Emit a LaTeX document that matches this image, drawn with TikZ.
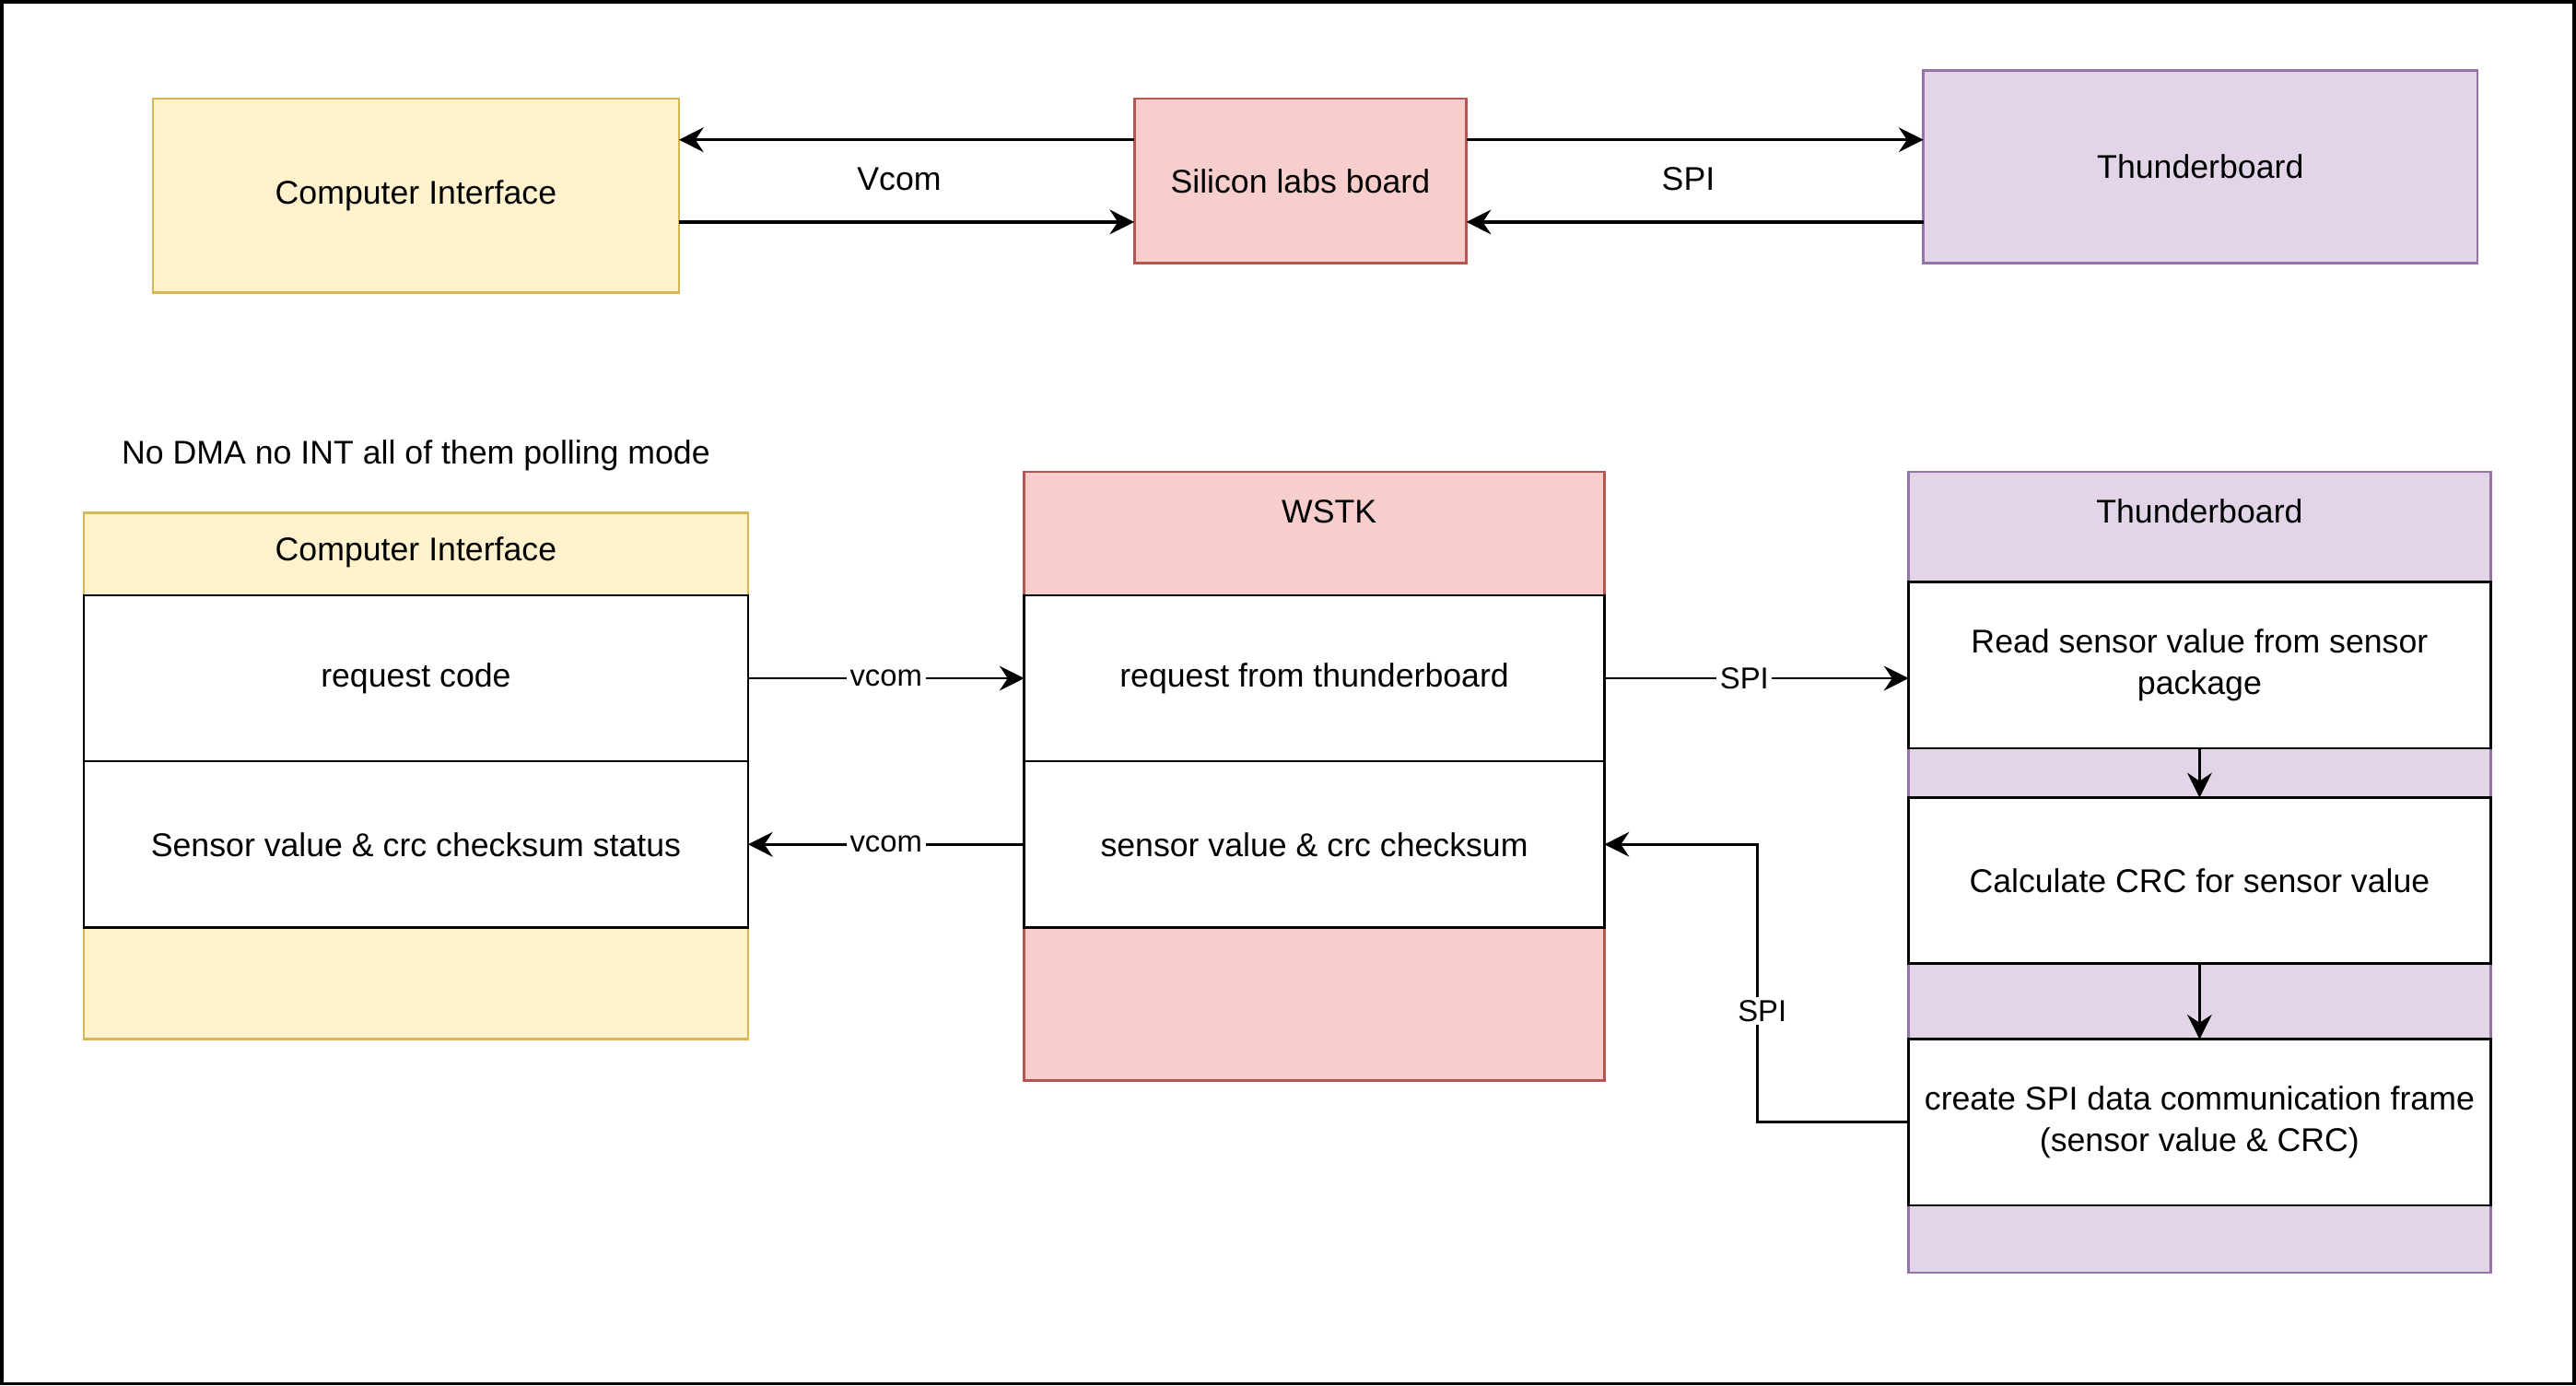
\documentclass[tikz,border=0pt]{standalone}
\usepackage{fontspec}
\setmainfont{Liberation Sans}
\usepackage{tikz}
\usetikzlibrary{calc,positioning,arrows.meta}
\definecolor{ylwfill}{HTML}{FFF2CC}
\definecolor{ylwline}{HTML}{D6B656}
\definecolor{redfill}{HTML}{F8CECC}
\definecolor{redline}{HTML}{B85450}
\definecolor{purfill}{HTML}{E1D5E7}
\definecolor{purline}{HTML}{9673A6}

\begin{document}
\begin{tikzpicture}[x=0.5pt,y=-0.5pt,>={Stealth[length=7.5pt,width=7.5pt,inset=2.5pt]},
  box/.style={draw,line width=0.75pt,inner sep=0pt,outer sep=0pt,font=\fontsize{10}{12.5}\selectfont,align=center},
  ylwbox/.style={box,fill=ylwfill,draw=ylwline},
  redbox/.style={box,fill=redfill,draw=redline},
  purbox/.style={box,fill=purfill,draw=purline},
  row/.style={box,fill=white,draw=black,minimum height=50.5pt},
  txt/.style={font=\fontsize{10}{12.5}\selectfont,inner sep=0pt},
  elab/.style={fill=white,font=\fontsize{9.2}{11}\selectfont,inner sep=1pt},
  link/.style={->,line width=0.75pt}]
  \useasboundingbox (0,0) rectangle (1567,842.4);
  \draw[line width=1pt] (1,1) rectangle (1566,841.4);

  \node[ylwbox,minimum width=160pt,minimum height=59pt] (ci) at (253,119) {Computer Interface};
  \node[redbox,minimum width=101pt,minimum height=50pt] (slb) at (791,110) {Silicon labs board};
  \node[purbox,minimum width=168.5pt,minimum height=58.5pt] (tb) at (1338.5,101.5) {Thunderboard};

  \coordinate (v1) at ($(slb.north west)!.25!(slb.south west)$);
  \coordinate (v2) at ($(slb.north west)!.75!(slb.south west)$);
  \coordinate (s1) at ($(slb.north east)!.25!(slb.south east)$);
  \coordinate (s2) at ($(slb.north east)!.75!(slb.south east)$);
  \draw[link,line width=0.9pt] (v1) -- (v1 -| ci.east);
  \draw[link,line width=0.9pt] (v2 -| ci.east) -- (v2);
  \draw[link,line width=0.9pt] (s1) -- (s1 -| tb.west);
  \draw[link,line width=0.9pt] (s2 -| tb.west) -- (s2);
  \node[txt] (vc) at (547,109) {Vcom};
  \node[txt] (sp) at (1027,109) {SPI};

  \node[txt] (note) at (253,277) {No DMA no INT all of them polling mode};

  \node[ylwbox,minimum width=202pt,minimum height=160pt,label={[txt,anchor=center,yshift=-12pt]north:Computer Interface}] (ci2) at (253,472) {};
  \node[redbox,minimum width=176.5pt,minimum height=185pt,label={[txt,anchor=center,xshift=4.5pt,yshift=-12pt]north:WSTK}] (ws) at (799.5,472) {};
  \node[purbox,minimum width=177pt,minimum height=243.5pt,label={[txt,anchor=center,yshift=-12pt]north:Thunderboard}] (tb2) at (1338,530.5) {};

  \node[row,minimum width=202pt] (r1) at (253,412.5) {request code};
  \node[row,minimum width=202pt,below=0pt of r1] (r2) {Sensor value \& crc checksum status};
  \node[row,minimum width=176.5pt] (w1) at (799.5,412.5) {request from thunderboard};
  \node[row,minimum width=176.5pt,below=0pt of w1] (w2) {sensor value \& crc checksum};
  \node[row,minimum width=177pt] (t1) at (1338,404.5) {Read sensor value from sensor\\package};
  \node[row,minimum width=177pt,below=15pt of t1] (t2) {Calculate CRC for sensor value};
  \node[row,minimum width=177pt,below=23pt of t2] (t3) {create SPI data communication frame\\(sensor value \& CRC)};

  \draw[link] (r1) -- node[elab] (l1) {vcom} (w1);
  \draw[link] (w2) -- node[elab] (l2) {vcom} (r2);
  \draw[link] (w1.east) -- node[elab,pos=.46] (l3) {SPI} (w1.east -| t1.west);
  \draw[link] (t1) -- (t2);
  \draw[link] (t2) -- (t3);
  \draw[link] (t3.west) -- ++(-46pt,0) |- node[elab,pos=.2,xshift=1.5pt] (l4) {SPI} (w2.east);
\end{tikzpicture}
\end{document}
